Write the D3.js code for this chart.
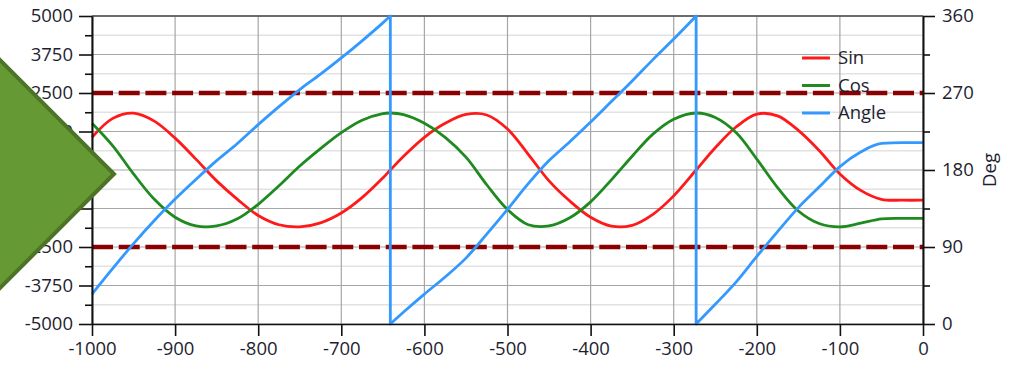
<!DOCTYPE html>
<html>
	<head>
		<script type="text/javascript" src="https://cdn.jsdelivr.net/npm/d3@7/dist/d3.min.js"></script>
		<meta charset="utf-8">
		<title></title>
		<style>
			body { margin: 0; background: #fff; }
			text { font-family: "Open Sans", sans-serif; }
		</style>
	</head>
	<body>
	</body>
<script type="text/javascript">
	//canvas size
	var width = 1011;
	var height = 390;

	//x positions of the samples
	var xs = [-1000,-975,-950,-925,-900,-875,-850,-825,-800,-775,-750,-725,-700,-675,-650,-641,
	          -625,-600,-575,-550,-525,-500,-475,-450,-425,-400,-375,-350,-325,-300,-273,
	          -250,-225,-200,-175,-150,-125,-100,-75,-50,-25,0];
	//Sin series (left axis)
	var sinValues = [1062,1676,1846,1586,1034,353,-353,-953,-1478,-1778,-1846,-1715,-1396,-897,-257,0,
	                 448,1062,1515,1803,1787,1331,511,-353,-1008,-1534,-1822,-1795,-1438,-840,0,
	                 723,1396,1816,1759,1285,633,-129,-663,-953,-980,-980];
	//Cos series (left axis)
	var cosValues = [1515,782,-129,-953,-1534,-1816,-1816,-1586,-1113,-511,129,694,1214,1618,1832,1850,
	                 1795,1515,1062,416,-479,-1285,-1778,-1816,-1552,-1034,-321,448,1164,1648,1850,
	                 1703,1214,353,-572,-1331,-1738,-1846,-1727,-1586,-1569,-1569];
	//Angle series (right axis, degrees)
	var angleValues = [35,65,94,121,146,169,191,211,233,254,274,292,311,331,352,360,
	                   14,35,55,77,105,134,164,191,213,236,260,284,309,333,360,
	                   23,49,79,108,136,160,184,201,211,212,212];
	//where the angle wraps from 360 back to 0
	var wrapX = [-641, -273];
	//limit lines (left axis)
	var limitValues = [2500, -2500];

	//tick values
	var xTicks = d3.range(-1000, 1, 100);
	var leftTicks = [-5000,-3750,-2500,-1250,0,1250,2500,3750,5000];
	var leftMinor = [-4375,-3125,-1875,-625,625,1875,3125,4375];
	var rightTicks = [0,90,180,270,360];
	var rightMinor = [45,135,225,315];

	var seriesNames = ["Sin", "Cos", "Angle"];
	var seriesColors = ["#ff1a1a", "#1f8a1f", "#3399ff"];

	//plain labels: no thousands comma, ascii minus
	var plain = function(d){ return String(d); };

	//plot area
	var padding = {left:92, right:88, top:16, bottom:66};
	var plotW = width - padding.left - padding.right;
	var plotH = height - padding.top - padding.bottom;

	var svg = d3.select("body")
	    .append("svg")
	    .attr("width", width)
	    .attr("height", height);

	var g = svg.append("g")
	    .attr("transform","translate(" + padding.left + "," + padding.top + ")");

	var xScale = d3.scaleLinear().domain([-1000, 0]).range([0, plotW]);
	var yLeft = d3.scaleLinear().domain([-5000, 5000]).range([plotH, 0]);
	var yRight = d3.scaleLinear().domain([0, 360]).range([plotH, 0]);

	//minor horizontal grid
	g.selectAll(".minorGrid")
	    .data(leftMinor)
	    .enter()
	    .append("line")
	    .attr("x1", 0).attr("x2", plotW)
	    .attr("y1", function(d){ return yLeft(d); })
	    .attr("y2", function(d){ return yLeft(d); })
	    .attr("stroke", "#e2e2e2")
	    .attr("stroke-width", 1.5);

	//major horizontal grid
	g.selectAll(".majorGrid")
	    .data(leftTicks)
	    .enter()
	    .append("line")
	    .attr("x1", 0).attr("x2", plotW)
	    .attr("y1", function(d){ return yLeft(d); })
	    .attr("y2", function(d){ return yLeft(d); })
	    .attr("stroke", "#a6a6a6")
	    .attr("stroke-width", 1.2);

	//vertical grid
	g.selectAll(".vGrid")
	    .data(xTicks)
	    .enter()
	    .append("line")
	    .attr("x1", function(d){ return xScale(d); })
	    .attr("x2", function(d){ return xScale(d); })
	    .attr("y1", 0).attr("y2", plotH)
	    .attr("stroke", "#a6a6a6")
	    .attr("stroke-width", 1.2);

	//top border
	g.append("line")
	    .attr("x1", 0).attr("x2", plotW)
	    .attr("y1", 0).attr("y2", 0)
	    .attr("stroke", "#4a4a4a")
	    .attr("stroke-width", 1.5);

	//limit lines
	g.selectAll(".limit")
	    .data(limitValues)
	    .enter()
	    .append("line")
	    .attr("x1", 0).attr("x2", plotW)
	    .attr("y1", function(d){ return yLeft(d); })
	    .attr("y2", function(d){ return yLeft(d); })
	    .attr("stroke", "#8b0000")
	    .attr("stroke-width", 4.5)
	    .attr("stroke-dasharray", "21,5.7");

	//lines
	var smooth = d3.line()
	    .x(function(d){ return xScale(d[0]); })
	    .y(function(d){ return yLeft(d[1]); })
	    .curve(d3.curveCatmullRom.alpha(0.5));

	var sinPts = xs.map(function(x, i){ return [x, sinValues[i]]; });
	var cosPts = xs.map(function(x, i){ return [x, cosValues[i]]; });

	//angle: one segment per turn, joined by a straight drop from 360 to 0
	var segments = [[]];
	xs.forEach(function(x, i){
	    segments[segments.length - 1].push([x, angleValues[i]]);
	    if (wrapX.indexOf(x) >= 0) segments.push([[x, 0]]);
	});
	var angleLine = d3.line()
	    .x(function(d){ return xScale(d[0]); })
	    .y(function(d){ return yRight(d[1]); })
	    .curve(d3.curveMonotoneX);
	var angleD = segments.map(function(seg, i){
	    var d = angleLine(seg);
	    return i == 0 ? d : d.replace(/^M/, "L");
	}).join("");

	g.append("path").attr("d", smooth(sinPts))
	    .attr("fill", "none").attr("stroke", seriesColors[0]).attr("stroke-width", 2.8);
	g.append("path").attr("d", smooth(cosPts))
	    .attr("fill", "none").attr("stroke", seriesColors[1]).attr("stroke-width", 2.8);
	g.append("path").attr("d", angleD)
	    .attr("fill", "none").attr("stroke", seriesColors[2]).attr("stroke-width", 2.8)
	    .attr("stroke-linejoin", "round");

	//axes
	function styleAxis(sel) {
	    sel.select(".domain").attr("stroke", "#111").attr("stroke-width", 1.6);
	    sel.selectAll(".tick line").attr("stroke", "#111").attr("stroke-width", 1.6);
	    sel.selectAll(".tick text")
	        .attr("fill", "#1e1e30")
	        .attr("font-size", "18.5px")
	        .attr("font-family", "'Open Sans', sans-serif");
	}

	//x axis
	g.append("g")
	    .attr("transform","translate(0," + plotH + ")")
	    .call(d3.axisBottom(xScale).tickValues(xTicks).tickFormat(plain).tickSize(12).tickPadding(6).tickSizeOuter(0))
	    .call(styleAxis);

	//left axis
	g.append("g")
	    .call(d3.axisLeft(yLeft).tickValues(leftMinor).tickSize(7).tickFormat("").tickSizeOuter(0))
	    .call(styleAxis);
	g.append("g")
	    .call(d3.axisLeft(yLeft).tickValues(leftTicks).tickFormat(plain).tickSize(13).tickPadding(6).tickSizeOuter(0))
	    .call(styleAxis);

	//right axis
	g.append("g")
	    .attr("transform","translate(" + plotW + ",0)")
	    .call(d3.axisRight(yRight).tickValues(rightMinor).tickSize(7).tickFormat("").tickSizeOuter(0))
	    .call(styleAxis);
	g.append("g")
	    .attr("transform","translate(" + plotW + ",0)")
	    .call(d3.axisRight(yRight).tickValues(rightTicks).tickFormat(plain).tickSize(12).tickPadding(7).tickSizeOuter(0))
	    .call(styleAxis);

	//right axis title
	svg.append("text")
	    .attr("transform", "translate(996," + (padding.top + plotH / 2) + ") rotate(-90)")
	    .attr("text-anchor", "middle")
	    .attr("fill", "#1e1e30")
	    .attr("font-size", "18.5px")
	    .text("Deg");

	//legend
	var legend = svg.selectAll(".legend")
	    .data(seriesNames)
	    .enter()
	    .append("g")
	    .attr("transform", function(d, i){ return "translate(802," + (58 + i * 27.5) + ")"; });
	legend.append("line")
	    .attr("x1", 0).attr("x2", 28)
	    .attr("stroke", function(d, i){ return seriesColors[i]; })
	    .attr("stroke-width", 3);
	legend.append("text")
	    .attr("x", 36)
	    .attr("dy", "0.35em")
	    .attr("fill", "#1e1e30")
	    .attr("font-size", "18.5px")
	    .text(function(d){ return d; });

	//green marker drawn over the left edge
	svg.append("polygon")
	    .attr("points", "-120,174 0,60 114,174 0,288")
	    .attr("fill", "#659933")
	    .attr("stroke", "#4d7325")
	    .attr("stroke-width", 4)
	    .attr("stroke-linejoin", "miter");
</script>
</html>
